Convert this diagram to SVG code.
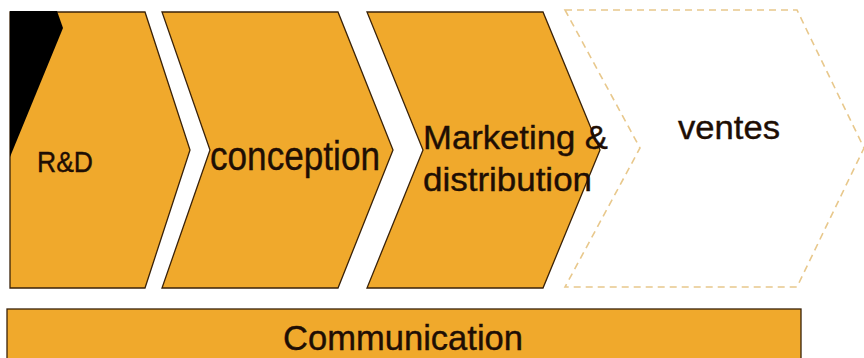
<svg xmlns="http://www.w3.org/2000/svg" width="864" height="358" viewBox="0 0 864 358">
<style>
.shape{fill:#F0A92C;stroke:#3A2208;stroke-width:1.3;stroke-linejoin:miter}
.dash{fill:#FFFFFF;stroke:#E8C88C;stroke-width:1.6;stroke-dasharray:7 5}
.lbl{font-family:"Liberation Sans",Arial,Helvetica,sans-serif;fill:#1E0E04;stroke:#1E0E04;stroke-width:0.4}
</style>
<rect width="864" height="358" fill="#FFFFFF"/>
<g id="rd">
<polygon class="shape" points="10,12 145,12 190,150 145,288 10,288"/>
<polygon points="10,11 57,11 63,28 10,157" fill="#000000"/>
<text class="lbl" x="37" y="172" font-size="29" textLength="56" lengthAdjust="spacingAndGlyphs">R&amp;D</text>
</g>
<g id="conception">
<polygon class="shape" points="162,12 338,12 393,150 338,288 162,288 210,150"/>
<text class="lbl" x="210" y="170" font-size="40" textLength="170" lengthAdjust="spacingAndGlyphs">conception</text>
</g>
<g id="marketing">
<polygon class="shape" points="367,12 543,12 600,150 543,288 367,288 423,150"/>
<text class="lbl" x="423" y="149" font-size="34" textLength="185" lengthAdjust="spacingAndGlyphs">Marketing &amp;</text>
<text class="lbl" x="423" y="191" font-size="34" textLength="169" lengthAdjust="spacingAndGlyphs">distribution</text>
</g>
<g id="ventes">
<polygon class="dash" points="565,10 797,10 864,148 797,287 565,287 640,148"/>
<text class="lbl" x="678" y="139" font-size="34" textLength="102" lengthAdjust="spacingAndGlyphs">ventes</text>
</g>
<g id="communication">
<rect class="shape" x="7" y="309" width="794" height="60"/>
<text class="lbl" x="283" y="350" font-size="35" textLength="240" lengthAdjust="spacingAndGlyphs">Communication</text>
</g>
<g id="connectors"></g>
</svg>
